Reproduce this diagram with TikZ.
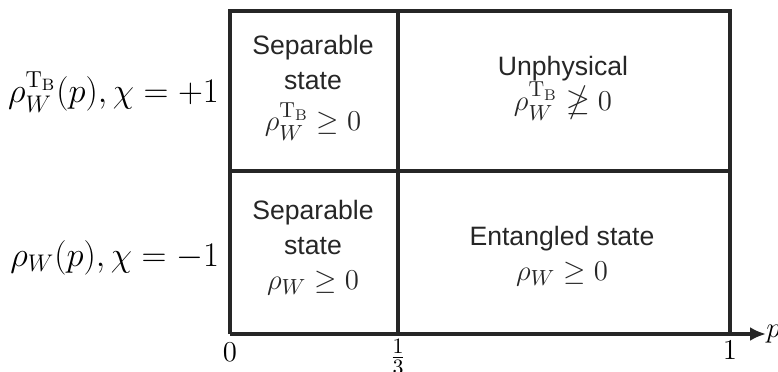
\documentclass[tikz,border=0pt]{standalone}
\usepackage{amsmath}
\usepackage{amssymb}
\usepackage{fontspec}
\setsansfont{Liberation Sans}
\usetikzlibrary{
  arrows.meta,  % 坐标轴箭头
  positioning   % 节点相对定位
}
\newcommand{\cellmath}[1]{{\fontsize{15.5}{18}\selectfont$#1$}}
\tikzset{
  grid line/.style={
    line width=1.6pt,
    color=black!85
  },
  axis line/.style={
    -{Latex[length=8pt,width=7pt]},
    line width=1.6pt,
    color=black!85
  },
  cell text/.style={
    align=center,
    font=\sffamily\fontsize{13.3}{17.5}\selectfont,
    text=black!85
  },
  side label/.style={
    anchor=east,
    font=\fontsize{16.5}{19}\selectfont
  },
  tick label/.style={
    font=\fontsize{15}{18}\selectfont
  }
}

\begin{document}
\begin{tikzpicture}[x=0.5pt, y=0.5pt]
  \useasboundingbox (0,0) rectangle (778,371);

  % 角点与分界点
  \coordinate (O)  at (230,37);
  \coordinate (TL) at (230,360);
  \coordinate (TR) at (730,360);
  \coordinate (BR) at (730,37);
  \coordinate (ML) at (230,200);
  \coordinate (MR) at (730,200);
  \coordinate (MT) at (398,360);
  \coordinate (MB) at (398,37);
  \coordinate (P)  at (766,37);

  % 外框与分隔线
  \draw[grid line] (O) -- (TL) -- (TR) -- (BR);
  \draw[grid line] (ML) -- (MR);
  \draw[grid line] (MT) -- (MB);

  % p 轴
  \draw[axis line] (O) -- (P);

  % 刻度文字
  \node[tick label] (zero)  at (230,19) {$0$};
  \node[tick label] (third) at (398,14) {$\frac{1}{3}$};
  \node[tick label] (one)   at (730,21) {$1$};
  \node[tick label, anchor=west, inner sep=0pt] (plabel) at (P) {$p$};

  % 左侧标注
  \node[side label] (chiplus)  at (226,279)
    {$\rho_W^{\mathrm{T}_\mathrm{B}}(p), \chi = +1$};
  \node[side label] (chiminus) at (226,113)
    {$\rho_W(p), \chi = -1$};

  % 四个区域
  \node[cell text] (sepTop) at (313,283)
    {Separable\\state\\[3pt]\cellmath{\rho_W^{\mathrm{T}_\mathrm{B}} \geq 0}};
  \node[cell text] (unphys) at (563,283)
    {Unphysical\\\cellmath{\rho_W^{\mathrm{T}_\mathrm{B}} \ngeq 0}};
  \node[cell text] (sepBot) at (313,123)
    {Separable\\state\\\cellmath{\rho_W \geq 0}};
  \node[cell text] (entang) at (562,115)
    {Entangled state\\\cellmath{\rho_W \geq 0}};
\end{tikzpicture}
\end{document}
